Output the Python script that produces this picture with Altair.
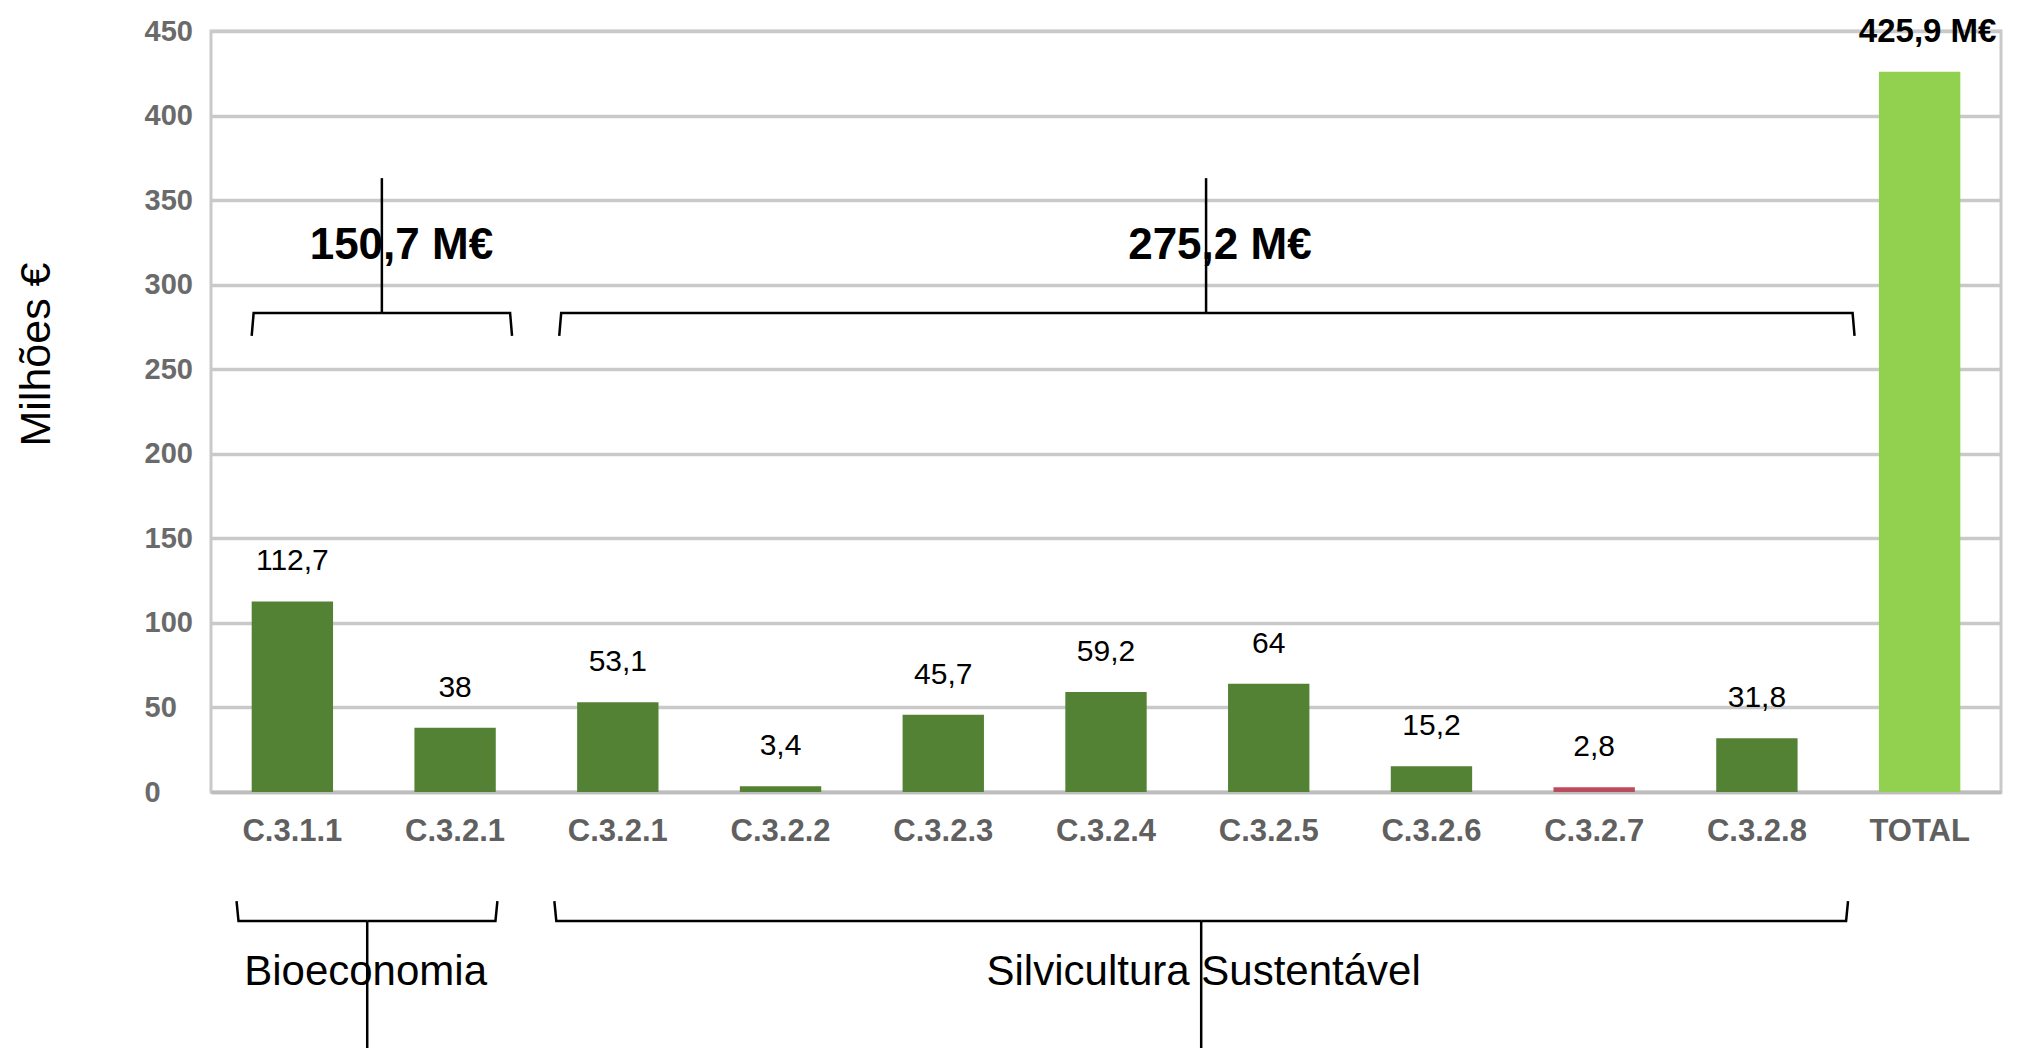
import altair as alt
import pandas as pd

# ---- data ----
categories = ["C.3.1.1", "C.3.2.1", "C.3.2.1", "C.3.2.2", "C.3.2.3", "C.3.2.4",
              "C.3.2.5", "C.3.2.6", "C.3.2.7", "C.3.2.8", "TOTAL"]
values = [112.7, 38, 53.1, 3.4, 45.7, 59.2, 64, 15.2, 2.8, 31.8, 425.9]
bar_colors = ["#548235", "#548235", "#548235", "#548235", "#548235", "#548235",
              "#548235", "#548235", "#BC4B5B", "#548235", "#92D050"]
y_ticks = [0, 50, 100, 150, 200, 250, 300, 350, 400, 450]

group_names = ["Bioeconomia", "Silvicultura Sustentável"]
group_totals = ["150,7 M€", "275,2 M€"]
total_label = "425,9 M€"

# brace annotations (x in band units 0..11, y in data units)
brace_left = [0.25, 2.14]
brace_right = [1.85, 10.10]
brace_tip = [1.05, 6.115]
top_brace_end, top_brace_h, top_brace_spike = 269.7, 283.3, 363.0
bot_brace_left = [0.157, 2.11]
bot_brace_right = [1.76, 10.06]
bot_brace_tip = [0.96, 6.085]
bot_brace_end, bot_brace_h, bot_brace_spike = -64.5, -76.3, -165.0
top_text_x = [1.17, 6.2]
top_text_y = 323.0
bot_text_x = [0.95, 6.10]
bot_text_y = -106.4


def fmt(v):
    s = ("%.1f" % v).rstrip("0").rstrip(".")
    return s.replace(".", ",")


bars = pd.DataFrame({
    "idx": list(range(len(categories))),
    "value": values,
    "color": bar_colors,
    "label": [fmt(v) for v in values[:-1]] + [total_label],
    "is_total": [False] * (len(values) - 1) + [True],
})

# brace polylines
rows = []


def add_brace(gid, L, R, tip, y_end, y_h, y_spike):
    d = 0.012
    pts_left = [(L, y_end), (L + d, y_h), (tip - d, y_h), (tip, y_h)]
    pts_right = [(R, y_end), (R - d, y_h), (tip + d, y_h), (tip, y_h)]
    pts_spike = [(tip, y_h), (tip, y_spike)]
    for k, pts in enumerate([pts_left, pts_right, pts_spike]):
        for o, (x, y) in enumerate(pts):
            rows.append({"seg": f"{gid}-{k}", "o": o, "bx": x, "by": y})


for i in range(2):
    add_brace(f"t{i}", brace_left[i], brace_right[i], brace_tip[i],
              top_brace_end, top_brace_h, top_brace_spike)
    add_brace(f"b{i}", bot_brace_left[i], bot_brace_right[i], bot_brace_tip[i],
              bot_brace_end, bot_brace_h, bot_brace_spike)
braces = pd.DataFrame(rows)

top_texts = pd.DataFrame({"bx": top_text_x, "by": [top_text_y] * 2, "t": group_totals})
bot_texts = pd.DataFrame({"bx": bot_text_x, "by": [bot_text_y] * 2, "t": group_names})

FONT = "Liberation Sans"
label_expr = "[" + ",".join(f"'{c}'" for c in categories) + "][datum.value]"

y_scale = alt.Scale(domain=[0, 450], nice=False, zero=True)

base = alt.Chart(bars)

bar_layer = base.mark_bar().encode(
    x=alt.X("idx:O",
            scale=alt.Scale(paddingInner=0.5, paddingOuter=0.25),
            axis=alt.Axis(title=None, labelExpr=label_expr, labelAngle=0,
                          labelFont=FONT, labelFontSize=31, labelFontWeight="bold",
                          labelColor="#606060", labelPadding=24, ticks=False,
                          domain=True, domainColor="#bdbdbd", domainWidth=3.5,
                          labelBaseline="top")),
    y=alt.Y("value:Q", scale=y_scale,
            axis=alt.Axis(title="Milhões €", values=y_ticks, grid=True,
                          gridColor="#c9c9c9", gridWidth=3.5, domain=False,
                          ticks=False, labelFont=FONT, labelFontSize=29,
                          labelFontWeight="bold", labelColor="#6a6a6a",
                          labelAlign="left", labelPadding=67,
                          titleFont=FONT, titleFontSize=43, titleFontWeight="normal",
                          titleColor="#000000", titleAngle=270, titleAlign="center",
                          titleBaseline="middle", titleX=-175, titleY=323)),
    color=alt.Color("color:N", scale=None),
)

val_labels = base.transform_filter("!datum.is_total").mark_text(
    font=FONT, fontSize=30, color="#000000", dy=-40, baseline="middle"
).encode(x=alt.X("idx:O"), y=alt.Y("value:Q", scale=y_scale), text="label:N")

tot_label = base.transform_filter("datum.is_total").mark_text(
    font=FONT, fontSize=33, fontWeight="bold", color="#000000", dy=-40, dx=8,
    baseline="middle"
).encode(x=alt.X("idx:O"), y=alt.Y("value:Q", scale=y_scale), text="label:N")

bx_scale = alt.Scale(domain=[0, 11], nice=False, zero=False)

brace_layer = alt.Chart(braces).mark_line(color="#000000", strokeWidth=2.5).encode(
    x=alt.X("bx:Q", scale=bx_scale, axis=None),
    y=alt.Y("by:Q", scale=y_scale),
    detail="seg:N",
    order="o:Q",
)

top_text_layer = alt.Chart(top_texts).mark_text(
    font=FONT, fontSize=44, fontWeight="bold", color="#000000", baseline="middle"
).encode(x=alt.X("bx:Q", scale=bx_scale, axis=None),
         y=alt.Y("by:Q", scale=y_scale), text="t:N")

bot_text_layer = alt.Chart(bot_texts).mark_text(
    font=FONT, fontSize=42, color="#000000", baseline="middle"
).encode(x=alt.X("bx:Q", scale=bx_scale, axis=None),
         y=alt.Y("by:Q", scale=y_scale), text="t:N")

bar_part = alt.layer(bar_layer, val_labels, tot_label)
annot_part = alt.layer(brace_layer, top_text_layer, bot_text_layer)

chart = alt.layer(bar_part, annot_part).resolve_scale(x="independent").properties(
    width=1790, height=761,
    autosize=alt.AutoSizeParams(type="none"),
    padding={"left": 203, "top": 23, "right": 8, "bottom": 256},
).configure_view(stroke="#c9c9c9", strokeWidth=3)

chart.save("out.html", embed_options={"renderer": "svg", "actions": False})
